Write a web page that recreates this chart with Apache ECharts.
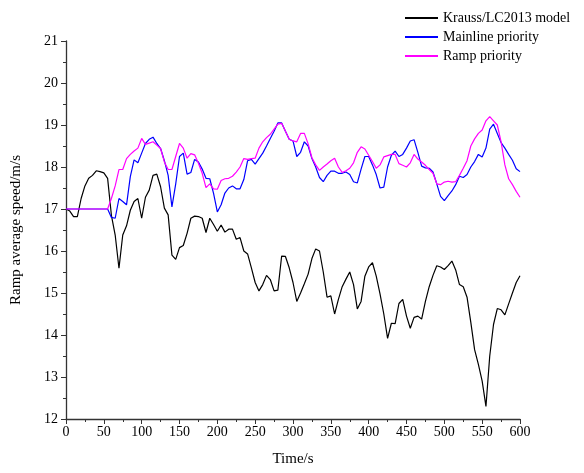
<!DOCTYPE html>
<html>
<head>
<meta charset="utf-8">
<script src="https://cdn.jsdelivr.net/npm/echarts@6/dist/echarts.min.js"></script>
<style>html,body{margin:0;padding:0;background:#fff;}#c{width:584px;height:473px;}</style>
</head>
<body>
<div id="c"></div>
<script>
const times = [0,5,10,15,20,25,30,35,40,45,50,55,60,65,70,75,80,85,90,95,100,105,110,115,120,125,130,135,140,145,150,155,160,165,170,175,180,185,190,195,200,205,210,215,220,225,230,235,240,245,250,255,260,265,270,275,280,285,290,295,300,305,310,315,320,325,330,335,340,345,350,355,360,365,370,375,380,385,390,395,400,405,410,415,420,425,430,435,440,445,450,455,460,465,470,475,480,485,490,495,500,505,510,515,520,525,530,535,540,545,550,555,560,565,570,575,580,585,590,595,600];

const krauss = [17.0,16.95,16.82,16.82,17.25,17.55,17.73,17.8,17.91,17.89,17.86,17.73,16.85,16.38,15.59,16.38,16.6,16.97,17.18,17.25,16.78,17.28,17.45,17.8,17.83,17.53,17.02,16.86,15.9,15.8,16.08,16.13,16.42,16.78,16.83,16.82,16.78,16.44,16.78,16.63,16.47,16.62,16.45,16.52,16.52,16.28,16.32,16.0,15.93,15.6,15.25,15.05,15.2,15.42,15.32,15.05,15.07,15.88,15.87,15.6,15.25,14.8,15.0,15.22,15.45,15.82,16.05,16.0,15.5,14.9,14.93,14.5,14.85,15.15,15.33,15.5,15.2,14.62,14.8,15.4,15.62,15.72,15.4,14.98,14.5,13.92,14.28,14.27,14.75,14.85,14.45,14.16,14.42,14.45,14.38,14.8,15.15,15.42,15.65,15.62,15.56,15.65,15.76,15.55,15.2,15.15,14.9,14.3,13.65,13.3,12.9,12.3,13.5,14.25,14.63,14.6,14.48,14.74,15.0,15.25,15.41];

const mainline = [17.0,17.0,17.0,17.0,17.0,17.0,17.0,17.0,17.0,17.0,17.0,17.0,16.8,16.78,17.25,17.18,17.1,17.77,18.17,18.1,18.33,18.56,18.66,18.71,18.56,18.44,18.15,17.8,17.05,17.6,18.25,18.33,17.83,17.87,18.18,18.12,17.95,17.73,17.72,17.37,16.93,17.1,17.38,17.5,17.55,17.48,17.48,17.7,18.15,18.18,18.07,18.2,18.33,18.5,18.68,18.85,19.05,19.05,18.85,18.66,18.62,18.25,18.35,18.6,18.5,18.2,18.0,17.75,17.65,17.8,17.9,17.9,17.85,17.85,17.88,17.82,17.65,17.62,17.95,18.25,18.25,18.05,17.82,17.5,17.52,18.0,18.28,18.38,18.25,18.3,18.45,18.62,18.65,18.35,18.02,17.98,17.97,17.88,17.6,17.3,17.2,17.32,17.43,17.58,17.78,17.75,17.82,18.0,18.13,18.3,18.24,18.45,18.9,19.02,18.8,18.58,18.45,18.3,18.16,17.96,17.89];

const ramp = [17.0,17.0,17.0,17.0,17.0,17.0,17.0,17.0,17.0,17.0,17.0,17.0,17.25,17.55,17.94,17.94,18.2,18.3,18.38,18.45,18.68,18.54,18.57,18.6,18.52,18.44,18.12,17.94,17.94,18.25,18.56,18.45,18.21,18.32,18.29,18.09,17.85,17.51,17.6,17.48,17.47,17.68,17.72,17.73,17.78,17.88,18.0,18.2,18.18,18.2,18.21,18.45,18.6,18.7,18.78,18.9,19.02,19.04,18.85,18.66,18.62,18.6,18.8,18.8,18.55,18.22,18.05,17.92,18.0,18.07,18.15,18.21,18.0,17.87,17.91,17.97,18.1,18.35,18.48,18.43,18.28,18.13,17.97,18.05,18.24,18.27,18.3,18.3,18.08,18.04,18.0,18.1,18.3,18.19,18.12,18.04,17.94,17.85,17.6,17.58,17.64,17.66,17.64,17.65,17.8,17.97,18.15,18.5,18.67,18.8,18.88,19.1,19.2,19.1,19.0,18.6,18.05,17.72,17.58,17.42,17.28];

const seriesNames = ['Krauss/LC2013 model', 'Mainline priority', 'Ramp priority'];
const seriesColors = ['#000000', '#0000ff', '#ff00ff'];
const seriesValues = [krauss, mainline, ramp];

const font = 'Liberation Serif';
const chart = echarts.init(document.getElementById('c'), null, {renderer: 'canvas'});
chart.setOption({
  animation: false,
  backgroundColor: '#ffffff',
  grid: {left: 66, right: 64, top: 41, bottom: 54, containLabel: false},
  legend: {
    orient: 'vertical',
    left: 399,
    top: 6,
    itemWidth: 33,
    itemHeight: 12,
    itemGap: 5,
    itemStyle: {opacity: 0},
    textStyle: {fontFamily: font, fontSize: 14, color: '#000'},
    data: seriesNames
  },
  xAxis: {
    type: 'value', min: 0, max: 600, interval: 50,
    name: 'Time/s', nameLocation: 'middle', nameGap: 33,
    nameTextStyle: {fontFamily: font, fontSize: 15, color: '#000'},
    axisLine: {show: true, onZero: false, lineStyle: {color: '#333', width: 1.3}},
    axisTick: {show: true, inside: false, length: 5, lineStyle: {color: '#333'}},
    minorTick: {show: true, splitNumber: 2, length: 3, lineStyle: {color: '#333'}},
    axisLabel: {fontFamily: font, fontSize: 14, color: '#000', margin: 6},
    splitLine: {show: false}
  },
  yAxis: {
    type: 'value', min: 12, max: 21, interval: 1,
    name: 'Ramp average speed/m/s', nameLocation: 'middle', nameGap: 42,
    nameTextStyle: {fontFamily: font, fontSize: 15, color: '#000'},
    axisLine: {show: true, onZero: false, lineStyle: {color: '#333', width: 1.3}},
    axisTick: {show: true, inside: false, length: 5, lineStyle: {color: '#333'}},
    minorTick: {show: true, splitNumber: 2, length: 3, lineStyle: {color: '#333'}},
    axisLabel: {fontFamily: font, fontSize: 14, color: '#000', margin: 8},
    splitLine: {show: false}
  },
  series: seriesNames.map((n, i) => ({
    name: n,
    type: 'line',
    symbol: 'none',
    color: seriesColors[i],
    lineStyle: {color: seriesColors[i], width: 1.2},
    data: times.map((t, k) => [t, seriesValues[i][k]])
  }))
});
</script>
</body>
</html>
